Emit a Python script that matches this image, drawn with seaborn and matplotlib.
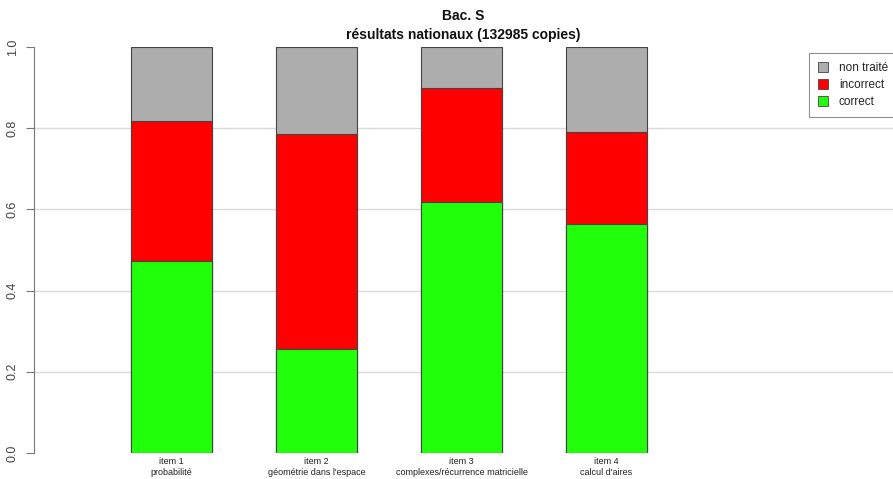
import pandas as pd
import seaborn as sns
import matplotlib.pyplot as plt
from matplotlib.patches import Patch

# data (proportions per item)
items = ["item 1\nprobabilité", "item 2\ngéométrie dans l'espace",
         "item 3\ncomplexes/récurrence matricielle", "item 4\ncalcul d'aires"]
correct = [0.472, 0.255, 0.617, 0.565]
incorrect = [0.346, 0.530, 0.282, 0.225]
non_traite = [0.182, 0.215, 0.101, 0.210]
grid_levels = [0.2, 0.4, 0.6, 0.8]

col_nt = "#adadad"
col_inc = "#ff0000"
col_cor = "#22ff0a"

df = pd.DataFrame({"item": items, "correct": correct,
                   "incorrect": incorrect, "non_traite": non_traite})
df["cum_inc"] = df["correct"] + df["incorrect"]
df["cum_nt"] = df["cum_inc"] + df["non_traite"]

sns.set_style("white")
plt.rcParams["font.family"] = ["Liberation Sans", "DejaVu Sans"]

fig = plt.figure(figsize=(8.93, 4.79), dpi=100)
ax = fig.add_axes([34 / 893, 26 / 479, 859 / 893, 406 / 479])

for g in grid_levels:
    ax.axhline(g, color="#dadada", lw=1, zorder=0)

edge = dict(edgecolor="#444444", linewidth=0.8, width=0.56, zorder=2)
sns.barplot(data=df, x="item", y="cum_nt", color=col_nt, saturation=1, ax=ax, **edge)
sns.barplot(data=df, x="item", y="cum_inc", color=col_inc, saturation=1, ax=ax, **edge)
sns.barplot(data=df, x="item", y="correct", color=col_cor, saturation=1, ax=ax, **edge)

ax.set_xlim(-0.948, 4.976)
ax.set_ylim(0, 1)
ax.set_xlabel("")
ax.set_ylabel("")

for s in ["top", "right", "bottom"]:
    ax.spines[s].set_visible(False)
ax.spines["left"].set_color("#777777")
ax.spines["left"].set_linewidth(0.8)
ax.spines["left"].set_bounds(0, 1)

ax.set_yticks([0.0, 0.2, 0.4, 0.6, 0.8, 1.0])
ax.set_yticklabels(["0.0", "0.2", "0.4", "0.6", "0.8", "1.0"], rotation=90, va="center")
ax.tick_params(axis="y", direction="out", length=6, width=0.8, color="#777777",
               labelsize=9, pad=5, labelcolor="#444444", left=True)
ax.tick_params(axis="x", length=0, labelsize=6.5, pad=3, labelcolor="#222222")

fig.suptitle("Bac. S\nrésultats nationaux (132985 copies)", x=463.5 / 893, y=1 - 9 / 479,
             fontsize=10, fontweight="bold", linespacing=1.45, color="#111111")

handles = [Patch(facecolor=col_nt, edgecolor="#444444", linewidth=0.6, label="non traité"),
           Patch(facecolor=col_inc, edgecolor="#444444", linewidth=0.6, label="incorrect"),
           Patch(facecolor=col_cor, edgecolor="#444444", linewidth=0.6, label="correct")]
leg = ax.legend(handles=handles, loc="upper left", bbox_to_anchor=(0.902, 0.985),
                borderaxespad=0, frameon=True, fancybox=False, fontsize=8.5,
                handlelength=0.9, handleheight=0.9, handletextpad=0.9,
                labelspacing=0.42, borderpad=0.75)
leg.get_frame().set_edgecolor("#777777")
leg.get_frame().set_linewidth(0.8)

fig.savefig("out.png", dpi=100)
